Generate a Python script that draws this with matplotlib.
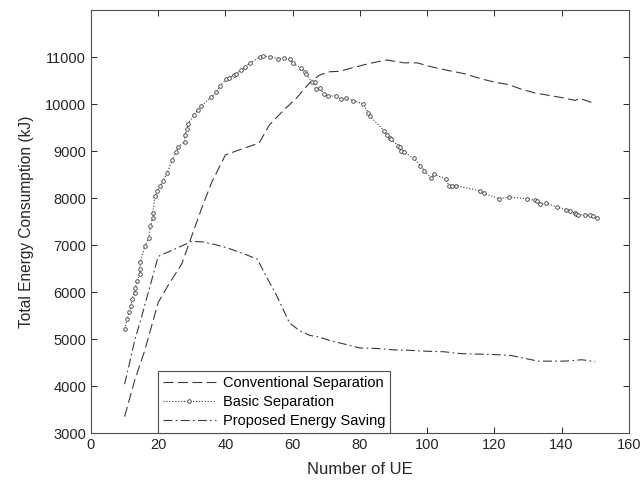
import numpy as np
import matplotlib
matplotlib.use('Agg')
import matplotlib.pyplot as plt

plt.rcParams['font.family'] = ['Liberation Sans', 'DejaVu Sans']

# Conventional Separation (dashed)
conv_x = [10, 13, 16, 20, 23, 27, 30, 33, 36, 40, 45, 50, 53, 57, 61, 65, 68, 71, 74, 77,
          83, 88, 93, 97, 101, 106, 111, 116, 120, 124, 128, 132, 136, 140, 144, 145.5, 150]
conv_y = [3350, 4120, 4760, 5780, 6150, 6600, 7200, 7800, 8350, 8920, 9050, 9170, 9550, 9850,
          10120, 10450, 10620, 10690, 10700, 10760, 10870, 10940, 10880, 10880, 10800, 10720,
          10650, 10540, 10470, 10420, 10320, 10240, 10190, 10140, 10080, 10120, 10010]

# Basic Separation (dotted, circles)
basic_x = [10.0, 10.8, 11.3, 12.0, 12.2, 13.0, 13.2, 13.7, 14.5, 14.5,
           14.7, 16.0, 17.2, 17.7, 18.3, 18.4, 19.0, 19.7, 20.4, 21.4,
           22.6, 24.2, 25.4, 26.0, 27.9, 27.9, 28.6, 28.9, 30.6, 31.8,
           32.8, 35.8, 37.3, 38.3, 40.3, 41.0, 42.4, 43.2, 44.5, 45.9,
           47.2, 50.2, 51.2, 53.4, 55.6, 57.3, 59.1, 60.1, 62.4, 63.6,
           64.1, 65.6, 66.5, 67.0, 68.2, 69.2, 70.5, 73.0, 74.5, 76.0,
           77.9, 80.9, 82.4, 82.9, 87.3, 88.0, 88.8, 89.3, 91.3, 91.8,
           92.3, 93.0, 96.1, 98.0, 99.2, 101.2, 101.9, 105.7, 106.4, 107.5,
           108.7, 115.6, 116.8, 121.3, 124.3, 129.8, 132.0, 132.7, 133.7, 135.4,
           138.7, 141.4, 142.6, 143.9, 144.4, 144.9, 146.9, 148.3, 149.3, 150.5]
basic_y = [5215, 5427, 5567, 5709, 5851, 5990, 6084, 6238, 6380, 6486,
           6640, 6979, 7154, 7402, 7578, 7684, 8037, 8143, 8249, 8354,
           8531, 8813, 8989, 9095, 9201, 9343, 9470, 9588, 9766, 9872,
           9963, 10153, 10259, 10386, 10528, 10556, 10612, 10647, 10718, 10788,
           10873, 11000, 11021, 11014, 10964, 10979, 10951, 10873, 10767, 10683,
           10647, 10471, 10471, 10330, 10344, 10224, 10175, 10175, 10104, 10132,
           10075, 10012, 9822, 9751, 9427, 9343, 9271, 9258, 9116, 9095,
           9004, 8975, 8848, 8693, 8581, 8425, 8510, 8404, 8264, 8264,
           8264, 8158, 8107, 7988, 8022, 7988, 7952, 7931, 7874, 7889,
           7810, 7755, 7734, 7684, 7663, 7650, 7635, 7635, 7629, 7578]

# Proposed Energy Saving (dash-dot)
prop_x = [10, 11.5, 13, 15, 18, 20, 22.5, 26, 30, 33, 37, 41, 46, 49.5, 52, 55, 59, 62, 65,
          68, 71, 75, 80, 85, 90, 95, 100, 105, 110, 115, 120, 125, 129, 133, 137, 141, 146, 150]
prop_y = [4040, 4500, 4970, 5460, 6240, 6760, 6840, 6950, 7080, 7070, 7010, 6930, 6800, 6700,
          6350, 5960, 5350, 5180, 5080, 5040, 4970, 4900, 4810, 4800, 4770, 4760, 4740, 4730,
          4690, 4680, 4670, 4650, 4590, 4530, 4530, 4530, 4560, 4520]

lc = '#3a3a3a'
fig = plt.figure(figsize=(6.43, 4.86), dpi=100)
ax = fig.add_axes([0.1415, 0.109, 0.8365, 0.870])

ax.plot(conv_x, conv_y, color=lc, lw=0.8, dashes=(9, 4), label='Conventional Separation')
ax.plot(basic_x, basic_y, color=lc, lw=0.8, ls=':', marker='o', ms=2.6, mfc='white',
        mec=lc, mew=0.6, label='Basic Separation')
ax.plot(prop_x, prop_y, color=lc, lw=0.8, dashes=(8, 3, 1.5, 3), label='Proposed Energy Saving')

ax.set_xlim(0, 160)
ax.set_ylim(3000, 12000)
ax.set_xticks(np.arange(0, 161, 20))
ax.set_yticks(np.arange(3000, 11001, 1000))
ax.tick_params(direction='in', top=True, right=True, length=4, width=0.7,
               labelsize=10.5, colors='#262626')
for s in ax.spines.values():
    s.set_color('#505050')
    s.set_linewidth(0.8)

ax.set_xlabel('Number of UE', fontsize=12, color='#262626', labelpad=7)
ax.set_ylabel('Total Energy Consumption (kJ)', fontsize=11.2, color='#262626', labelpad=8)

leg = ax.legend(loc='lower left', bbox_to_anchor=(0.1245, 0.0), borderaxespad=0,
                fancybox=False, framealpha=1, edgecolor='#505050', fontsize=10.5,
                handlelength=3.6, handletextpad=0.5, labelspacing=0.35, borderpad=0.35)
leg.get_frame().set_linewidth(0.8)

fig.savefig('out.png', dpi=100)
